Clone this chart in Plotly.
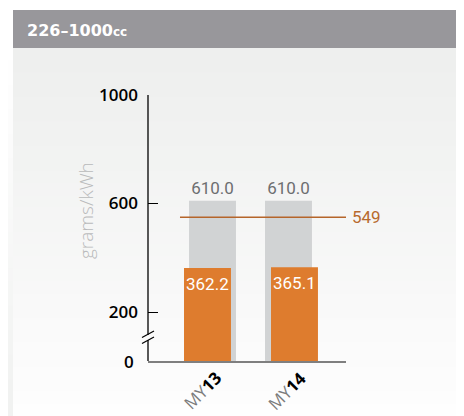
import numpy as np
import plotly.graph_objects as go

# data
model_years = ["MY13", "MY14"]
standard = [610.0, 610.0]
measured = [362.2, 365.1]
fleet_avg = 549
y_ticks = [200, 600, 1000]
y_bottom = 19.4   # axis is broken below 200, baseline drawn as "0"

# page puts the plot 8px in from the top-left corner
OFF = 8
W, H = 464 - OFF, 416 - OFF
L, R, T, B = 148 - OFF, 346 - OFF, 95 - OFF, 361 - OFF


def px(x):
  return (x - OFF - L) / (R - L)


def py(y):
  return (B - (y - OFF)) / (B - T)


GREY = "#d1d3d4"
ORANGE = "#de7c2e"
BROWN = "#b5652a"

fig = go.Figure()
fig.add_trace(go.Bar(
    x=model_years, y=standard, width=0.618, offset=-0.309,
    marker=dict(color=GREY, line_width=0),
    text=[f"{v:.1f}" for v in standard], textposition="outside",
    textfont=dict(family="Roboto", size=17, color="#6d6e70"),
    cliponaxis=False, hoverinfo="skip",
))
fig.add_trace(go.Bar(
    x=model_years, y=measured, width=0.618, offset=[-0.375, -0.230],
    marker=dict(color=ORANGE, line_width=0),
    hoverinfo="skip",
))

shapes = []
# background panel with a soft vertical fade
n = 30
edges = np.linspace(48, 416, n + 1)
top_c = np.array([238, 239, 238])
bot_c = np.array([254, 254, 254])
side_top = np.array([255, 255, 255])
side_bot = np.array([241, 242, 241])
for i in range(n):
  f = i / (n - 1)
  c = (top_c + (bot_c - top_c) * f).astype(int)
  s = (side_top + (side_bot - side_top) * f).astype(int)
  shapes.append(dict(type="rect", xref="paper", yref="paper", layer="below",
                     x0=px(13), x1=px(470), y0=py(edges[i + 1] + 1), y1=py(edges[i]),
                     fillcolor=f"rgb({c[0]},{c[1]},{c[2]})", line_width=0))
  shapes.append(dict(type="rect", xref="paper", yref="paper", layer="below",
                     x0=px(0), x1=px(13), y0=py(edges[i + 1] + 1), y1=py(edges[i]),
                     fillcolor=f"rgb({s[0]},{s[1]},{s[2]})", line_width=0))
# header band
shapes.append(dict(type="rect", xref="paper", yref="paper", layer="below",
                   x0=px(13), x1=px(470), y0=py(48), y1=py(10),
                   fillcolor="#98979b", line_width=0))
# y axis line with a break
shapes.append(dict(type="line", xref="paper", yref="paper", x0=0, x1=0,
                   y0=py(335), y1=1, line=dict(color="black", width=1.3)))
shapes.append(dict(type="line", xref="paper", yref="paper", x0=0, x1=0,
                   y0=0, y1=py(340), line=dict(color="black", width=1.3)))
for yy in (331, 337):
  shapes.append(dict(type="line", xref="paper", yref="paper",
                     x0=px(142), x1=px(154), y0=py(yy + 6.5), y1=py(yy),
                     line=dict(color="black", width=1.2)))
# fleet average line
shapes.append(dict(type="line", xref="x", yref="y", x0=-0.428, x1=1.757,
                   y0=fleet_avg, y1=fleet_avg, line=dict(color=BROWN, width=1.5)))

annotations = [
    dict(text="226–1000<span style='font-size:12px'>cc</span>", xref="paper", yref="paper",
         x=px(25), y=py(30), xanchor="left", yanchor="middle", showarrow=False,
         font=dict(family="DejaVu Sans", size=16, color="white", weight="bold")),
    dict(text=str(fleet_avg), xref="x", yref="y", x=1.757, y=fleet_avg, xshift=4,
         xanchor="left", yanchor="middle", showarrow=False,
         font=dict(family="Roboto", size=17, color="#b86a2e")),
    dict(text="grams/kWh", xref="paper", yref="paper", x=px(86), y=py(211),
         textangle=-90, showarrow=False, xanchor="center", yanchor="middle",
         font=dict(family="Open Sans", size=19, color="#b9babb", weight=300)),
    dict(text="0", xref="paper", yref="y", x=0, y=y_bottom, xshift=-12,
         xanchor="right", yanchor="middle", showarrow=False,
         font=dict(family="Open Sans", size=17, color="black", weight=600)),
]
# value labels just inside the top of the orange bars
for cat, v, dx in zip(model_years, measured, [-5, 6]):
  annotations.append(dict(
      text=f"{v:.1f}", xref="x", yref="y", x=cat, y=v, xshift=dx, yshift=-16,
      showarrow=False, xanchor="center", yanchor="middle",
      font=dict(family="Roboto", size=17, color="white")))
for cat, dx in zip(model_years, [-10.5, -1.5]):
  annotations.append(dict(
      text=f"<span style='color:#7b7b7b'>{cat[:2]}</span><b>{cat[2:]}</b>",
      xref="x", yref="paper", x=cat, y=py(390), xshift=dx, textangle=-45,
      showarrow=False, xanchor="center", yanchor="middle",
      font=dict(family="Open Sans", size=17, color="black")))

fig.update_layout(
    width=W, height=H, margin=dict(l=L, r=W - R, t=T, b=H - B),
    barmode="overlay", showlegend=False,
    paper_bgcolor="white", plot_bgcolor="rgba(0,0,0,0)",
    shapes=shapes, annotations=annotations,
    xaxis=dict(type="category", range=[-0.849, 1.757], showticklabels=False,
               showline=True, linecolor="#7f7f7f", linewidth=1.5,
               showgrid=False, zeroline=False, ticks=""),
    yaxis=dict(range=[y_bottom, 1000], tickvals=y_ticks,
               ticktext=[str(v) for v in y_ticks],
               ticks="inside", ticklen=10, tickcolor="black", tickwidth=1.2,
               ticklabelstandoff=9, showline=False, showgrid=False, zeroline=False,
               tickfont=dict(family="Open Sans", size=17, color="black", weight=600)),
)

fig.write_html("out.html")
